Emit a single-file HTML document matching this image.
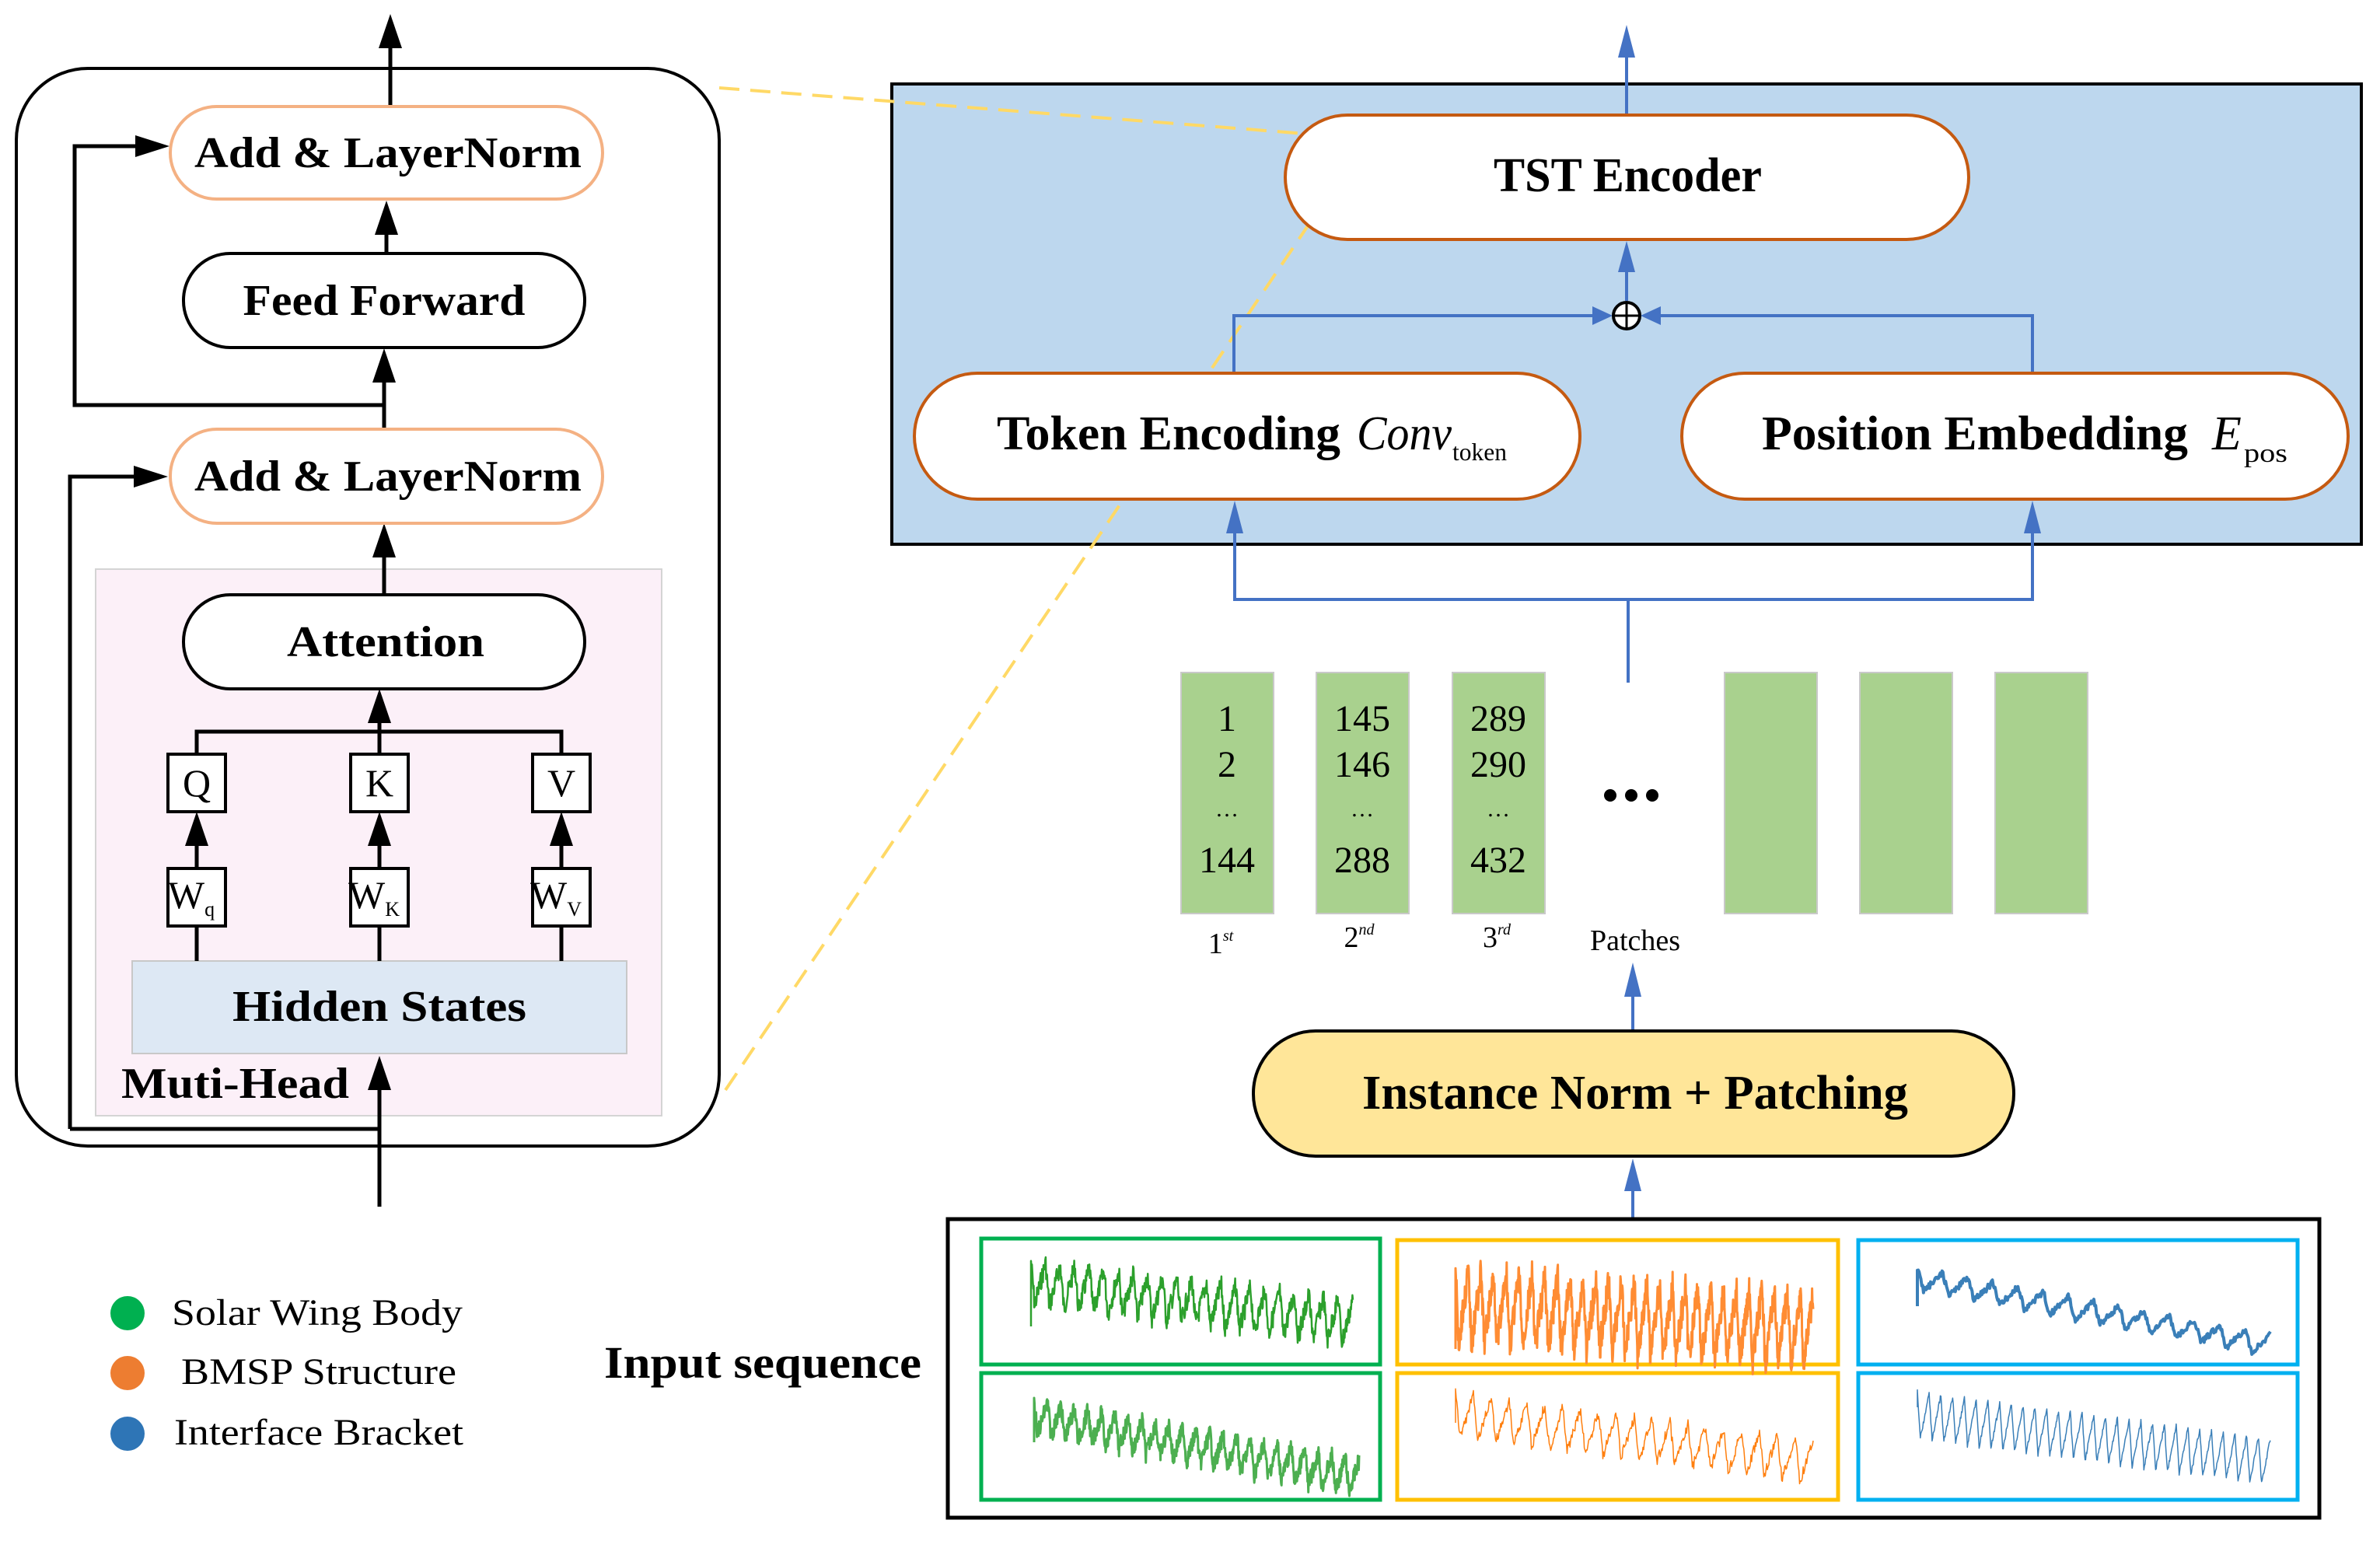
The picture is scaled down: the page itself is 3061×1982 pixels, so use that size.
<!DOCTYPE html>
<html><head><meta charset="utf-8"><style>
html,body{margin:0;padding:0;background:#fff;}
svg{display:block;}
text{font-family:"Liberation Serif",serif;}
</style></head><body>
<svg xmlns="http://www.w3.org/2000/svg" width="3061" height="1982" viewBox="0 0 3061 1982">

<!-- LEFT PANEL -->
<rect x="21" y="88" width="904" height="1386" rx="92" fill="#fff" stroke="#000" stroke-width="4"/>
<rect x="123" y="732" width="728" height="703" fill="#fcf0f8" stroke="#d4d4d4" stroke-width="2"/>
<rect x="170" y="1236" width="636" height="119" fill="#dde8f4" stroke="#c8c8c8" stroke-width="2"/>

<g stroke="#000" stroke-width="5" fill="none">
<line x1="502" y1="137" x2="502" y2="60"/>
<line x1="497" y1="326" x2="497" y2="300"/>
<line x1="494" y1="552" x2="494" y2="490"/>
<polyline points="494,521 96,521 96,188 180,188"/>
<line x1="494" y1="765" x2="494" y2="715"/>
<polyline points="90,1452 488,1452"/>
<polyline points="90,1452 90,613 175,613"/>
<line x1="488" y1="1552" x2="488" y2="1400"/>
<polyline points="253,970 253,941 722,941 722,970"/>
<line x1="488" y1="970" x2="488" y2="928"/>
<line x1="253" y1="1117" x2="253" y2="1085"/>
<line x1="488" y1="1117" x2="488" y2="1085"/>
<line x1="722" y1="1117" x2="722" y2="1085"/>
<line x1="253" y1="1236" x2="253" y2="1191"/>
<line x1="488" y1="1236" x2="488" y2="1191"/>
<line x1="722" y1="1236" x2="722" y2="1191"/>
</g>
<g fill="#000">
<path d="M487,62 L517,62 L502,18 z"/>
<path d="M482,302 L512,302 L497,258 z"/>
<path d="M479,492 L509,492 L494,448 z"/>
<path d="M479,717 L509,717 L494,673 z"/>
<path d="M473,1402 L503,1402 L488,1358 z"/>
<path d="M473,930 L503,930 L488,886 z"/>
<path d="M238,1088 L268,1088 L253,1044 z"/>
<path d="M473,1088 L503,1088 L488,1044 z"/>
<path d="M707,1088 L737,1088 L722,1044 z"/>
<path d="M174,174 L174,202 L218,188 z"/>
<path d="M172,599 L172,627 L216,613 z"/>
</g>

<rect x="219" y="137" width="556" height="119" rx="59.5" fill="#fff" stroke="#f4b183" stroke-width="4"/>
<rect x="236" y="326" width="516" height="121" rx="60" fill="#fff" stroke="#000" stroke-width="4"/>
<rect x="219" y="552" width="556" height="121" rx="60" fill="#fff" stroke="#f4b183" stroke-width="4"/>
<rect x="236" y="765" width="516" height="121" rx="60" fill="#fff" stroke="#000" stroke-width="4"/>
<g fill="#fff" stroke="#000" stroke-width="4">
<rect x="216" y="970" width="74" height="74"/><rect x="451" y="970" width="74" height="74"/><rect x="685" y="970" width="74" height="74"/>
<rect x="216" y="1117" width="74" height="74"/><rect x="451" y="1117" width="74" height="74"/><rect x="685" y="1117" width="74" height="74"/>
</g>
<g font-weight="bold" font-size="56" fill="#000" text-anchor="middle">
<text x="499" y="215" textLength="498" lengthAdjust="spacingAndGlyphs">Add &amp; LayerNorm</text>
<text x="494" y="405" textLength="363" lengthAdjust="spacingAndGlyphs">Feed Forward</text>
<text x="499" y="631" textLength="498" lengthAdjust="spacingAndGlyphs">Add &amp; LayerNorm</text>
<text x="496" y="844" textLength="254" lengthAdjust="spacingAndGlyphs">Attention</text>
<text x="488" y="1313" textLength="378" lengthAdjust="spacingAndGlyphs">Hidden States</text>
</g>
<text x="156" y="1412" font-weight="bold" font-size="56" textLength="293" lengthAdjust="spacingAndGlyphs">Muti-Head</text>
<g font-size="50" text-anchor="middle" fill="#000">
<text x="253" y="1024">Q</text><text x="488" y="1024">K</text><text x="722" y="1024">V</text>
<text x="246" y="1168">W<tspan font-size="26" dy="10">q</tspan></text>
<text x="481" y="1168">W<tspan font-size="26" dy="10">K</tspan></text>
<text x="715" y="1168">W<tspan font-size="26" dy="10">V</tspan></text>
</g>

<!-- legend -->
<circle cx="164" cy="1689" r="22" fill="#00b050"/>
<circle cx="164" cy="1766" r="22" fill="#ed7d31"/>
<circle cx="164" cy="1844" r="22" fill="#2e75b6"/>
<g font-size="48" fill="#000">
<text x="221" y="1704" textLength="374" lengthAdjust="spacingAndGlyphs">Solar Wing Body</text>
<text x="233" y="1780" textLength="354" lengthAdjust="spacingAndGlyphs">BMSP Structure</text>
<text x="224" y="1858" textLength="372" lengthAdjust="spacingAndGlyphs">Interface Bracket</text>
</g>
<text x="777" y="1772" font-size="58" font-weight="bold" textLength="408" lengthAdjust="spacingAndGlyphs">Input sequence</text>

<!-- RIGHT PANEL -->
<rect x="1147" y="108" width="1890" height="592" fill="#bdd7ee" stroke="#000" stroke-width="4"/>

<!-- yellow dashed (behind white boxes) -->
<g stroke="#ffd966" stroke-width="4" stroke-dasharray="26,14" fill="none">
<line x1="925" y1="113" x2="1679" y2="172"/>
<line x1="933" y1="1402" x2="1683" y2="289"/>
</g>

<g stroke="#4472c4" stroke-width="4" fill="none">
<line x1="2092" y1="148" x2="2092" y2="70"/>
<line x1="2092" y1="387" x2="2092" y2="345"/>
<polyline points="1587,480 1587,406 2050,406"/>
<polyline points="2614,480 2614,406 2134,406"/>
<polyline points="2094,878 2094,771 1588,771 1588,685"/>
<polyline points="2094,771 2614,771 2614,685"/>
<line x1="2100" y1="1325" x2="2100" y2="1280"/>
<line x1="2100" y1="1567" x2="2100" y2="1530"/>
</g>
<g fill="#4472c4">
<path d="M2081,74 L2103,74 L2092,32 z"/>
<path d="M2081,350 L2103,350 L2092,310 z"/>
<path d="M2048,394 L2048,418 L2074,406 z"/>
<path d="M2136,394 L2136,418 L2110,406 z"/>
<path d="M1577,686 L1599,686 L1588,644 z"/>
<path d="M2603,686 L2625,686 L2614,644 z"/>
<path d="M2089,1282 L2111,1282 L2100,1238 z"/>
<path d="M2089,1532 L2111,1532 L2100,1490 z"/>
</g>
<circle cx="2092" cy="406" r="17" fill="#fff" stroke="#000" stroke-width="4"/>
<line x1="2075" y1="406" x2="2109" y2="406" stroke="#000" stroke-width="3"/>
<line x1="2092" y1="389" x2="2092" y2="423" stroke="#000" stroke-width="3"/>

<rect x="1653" y="148" width="879" height="160" rx="80" fill="#fff" stroke="#c55a11" stroke-width="4"/>
<rect x="1176" y="480" width="856" height="162" rx="81" fill="#fff" stroke="#c55a11" stroke-width="4"/>
<rect x="2163" y="480" width="857" height="162" rx="81" fill="#fff" stroke="#c55a11" stroke-width="4"/>
<g font-size="62" fill="#000">
<text x="1921" y="246" font-weight="bold" textLength="345" lengthAdjust="spacingAndGlyphs">TST Encoder</text>
<text x="1282" y="578" font-weight="bold" textLength="442" lengthAdjust="spacingAndGlyphs">Token Encoding</text>
<text x="1745" y="578" font-style="italic" textLength="122" lengthAdjust="spacingAndGlyphs">Conv</text>
<text x="1868" y="592" font-size="32" textLength="70" lengthAdjust="spacingAndGlyphs">token</text>
<text x="2266" y="578" font-weight="bold" textLength="548" lengthAdjust="spacingAndGlyphs">Position Embedding</text>
<text x="2845" y="578" font-style="italic">E</text>
<text x="2886" y="594" font-size="34" textLength="56" lengthAdjust="spacingAndGlyphs">pos</text>
</g>

<!-- patches -->
<g fill="#a9d18e" stroke="#c9c9c9" stroke-width="2">
<rect x="1519" y="865" width="119" height="310"/><rect x="1693" y="865" width="119" height="310"/><rect x="1868" y="865" width="119" height="310"/>
<rect x="2218" y="865" width="119" height="310"/><rect x="2392" y="865" width="119" height="310"/><rect x="2566" y="865" width="119" height="310"/>
</g>
<g font-size="48" fill="#000" text-anchor="middle">
<text x="1578" y="940">1</text><text x="1578" y="999">2</text><text x="1578" y="1050" font-size="30">…</text><text x="1578" y="1122">144</text>
<text x="1752" y="940">145</text><text x="1752" y="999">146</text><text x="1752" y="1050" font-size="30">…</text><text x="1752" y="1122">288</text>
<text x="1927" y="940">289</text><text x="1927" y="999">290</text><text x="1927" y="1050" font-size="30">…</text><text x="1927" y="1122">432</text>
</g>
<g fill="#000"><circle cx="2071" cy="1023" r="8"/><circle cx="2098" cy="1023" r="8"/><circle cx="2125" cy="1023" r="8"/></g>
<g font-size="38" fill="#000" text-anchor="middle">
<text x="1570" y="1226">1<tspan font-size="20" dy="-16" font-style="italic">st</tspan></text>
<text x="1748" y="1218">2<tspan font-size="20" dy="-16" font-style="italic">nd</tspan></text>
<text x="1925" y="1218">3<tspan font-size="20" dy="-16" font-style="italic">rd</tspan></text>
<text x="2103" y="1222">Patches</text>
</g>

<rect x="1612" y="1326" width="978" height="161" rx="80" fill="#ffe699" stroke="#000" stroke-width="4"/>
<text x="1752" y="1426" font-size="62" font-weight="bold" textLength="702" lengthAdjust="spacingAndGlyphs">Instance  Norm + Patching</text>

<!-- input box -->
<rect x="1219" y="1568" width="1764" height="384" fill="#fff" stroke="#000" stroke-width="5"/>
<g fill="#fff" stroke-width="5">
<rect x="1262" y="1593" width="513" height="162" stroke="#00b050"/>
<rect x="1262" y="1766" width="513" height="163" stroke="#00b050"/>
<rect x="1797" y="1595" width="567" height="160" stroke="#ffc000"/>
<rect x="1797" y="1766" width="567" height="163" stroke="#ffc000"/>
<rect x="2390" y="1595" width="565" height="160" stroke="#00b0f0"/>
<rect x="2390" y="1766" width="565" height="163" stroke="#00b0f0"/>
</g>
<g id="charts"></g>
</svg>
<script>
(function(){
var g=document.getElementById('charts');var ns='http://www.w3.org/2000/svg';
var seed=7;function rnd(){seed=(seed*9301+49297)%233280;return seed/233280;}
function chart(x0,y0,x1,yTop,yBot,period,amp,noise,color,w,n){
 var pts=[(x0).toFixed(1)+','+y0];
 for(var i=0;i<=n;i++){var t=i/n;var x=x0+(x1-x0)*t;
 var base=yTop+(yBot-yTop)*t;var ph=(t*period)%1;var s=ph<0.25?-1+ph*8:1-(ph-0.25)*2.67;
 var y=base+amp*s+(rnd()-0.5)*noise; pts.push(x.toFixed(1)+','+y.toFixed(1));}
 var p=document.createElementNS(ns,'polyline');p.setAttribute('points',pts.join(' '));
 p.setAttribute('fill','none');p.setAttribute('stroke',color);p.setAttribute('stroke-width',w);p.setAttribute('stroke-linejoin','round');g.appendChild(p);
}
chart(1326,1706,1740,1650,1700,22,28,26,'#2ca02c',2.5,700);
chart(1330,1855,1748,1822,1900,24,22,22,'#4caf50',3,800);
chart(1872,1735,2332,1680,1710,28,45,40,'#ff8c33',3,1000);
chart(1872,1830,2332,1820,1880,20,28,14,'#ff7f0e',1.5,500);
chart(2466,1680,2920,1645,1730,14,14,8,'#3a7fb8',4,400);
chart(2466,1810,2920,1820,1880,30,30,6,'#3a7fb8',1.5,600);
})();
</script>
</body></html>
